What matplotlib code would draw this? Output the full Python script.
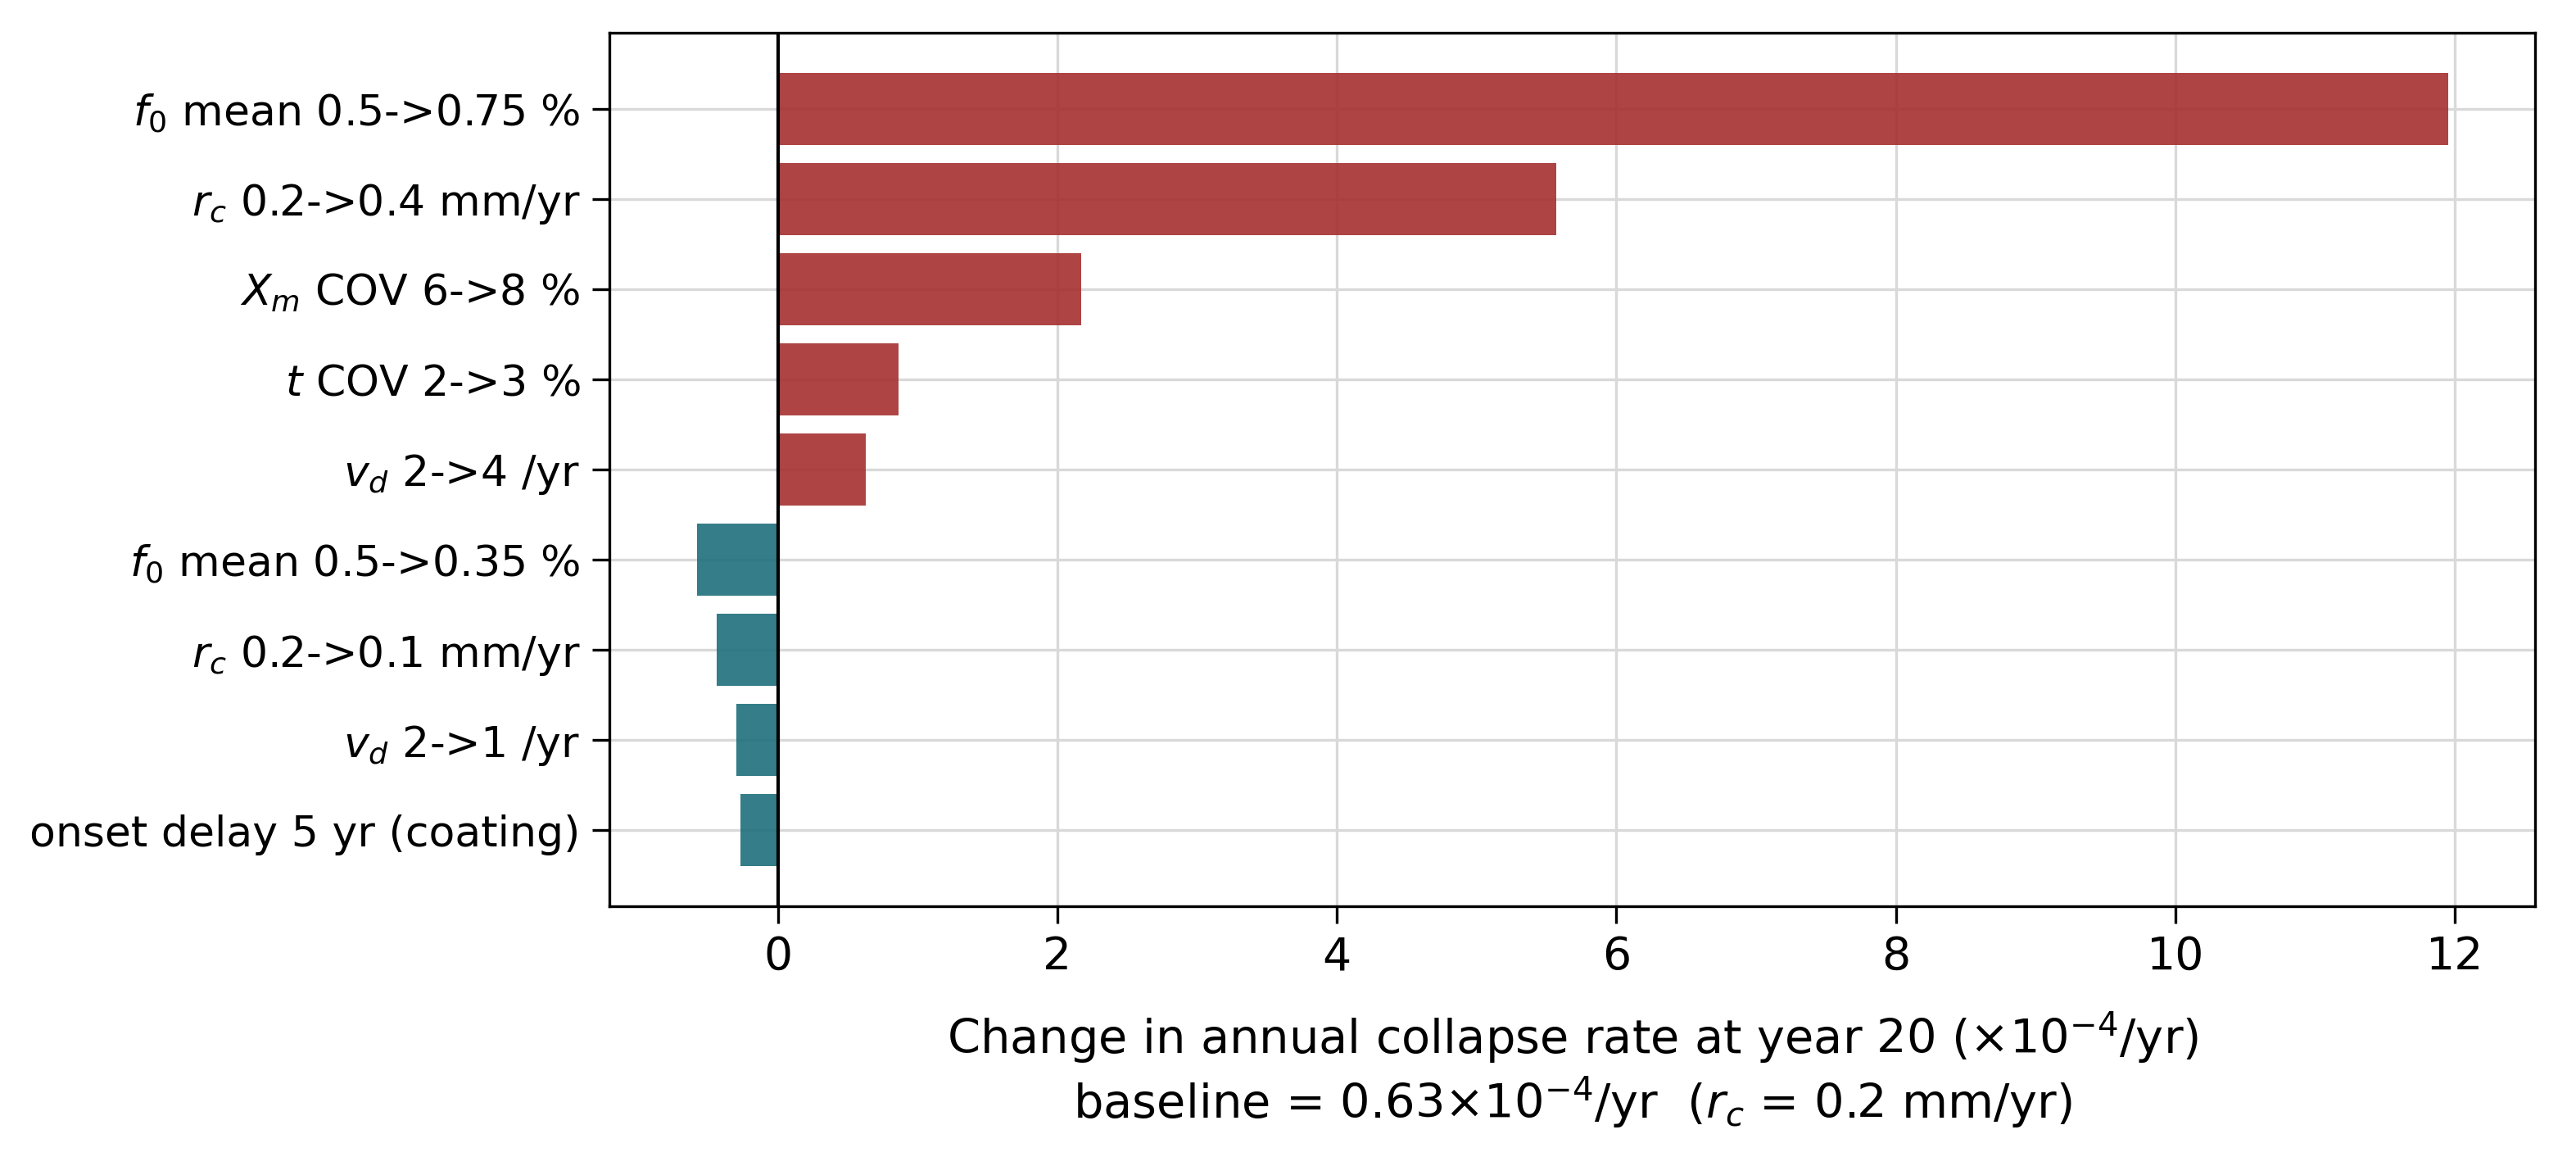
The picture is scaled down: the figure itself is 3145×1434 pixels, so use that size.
import numpy as np
import matplotlib.pyplot as plt

## sensitivity cases (top to bottom) and change in collapse rate (x1e-4/yr)
labels = [
    "$f_0$ mean 0.5->0.75 %",
    "$r_c$ 0.2->0.4 mm/yr",
    "$X_m$ COV 6->8 %",
    "$t$ COV 2->3 %",
    "$v_d$ 2->4 /yr",
    "$f_0$ mean 0.5->0.35 %",
    "$r_c$ 0.2->0.1 mm/yr",
    "$v_d$ 2->1 /yr",
    "onset delay 5 yr (coating)",
]
delta = [11.95, 5.57, 2.17, 0.86, 0.63, -0.58, -0.44, -0.30, -0.27]

red = "#a52f2f"
teal = "#1f6f7b"
colors = [red if d > 0 else teal for d in delta]

fig, ax = plt.subplots(figsize=(10.486, 4.78), dpi=300)
ypos = np.arange(len(labels))
ax.barh(ypos, delta, height=0.8, color=colors, alpha=0.9, zorder=2)
ax.axvline(0, color="black", lw=1.0, zorder=3)
ax.set_yticks(ypos)
ax.set_yticklabels(labels, fontsize=12.5)
ax.invert_yaxis()
ax.tick_params(axis="x", labelsize=13.3)
ax.tick_params(axis="both", length=5)
ax.grid(True, color="#d9d9d9", lw=0.8, zorder=0)
ax.set_axisbelow(True)
ax.set_xlabel("Change in annual collapse rate at year 20 ($\\times10^{-4}$/yr)\n"
              "baseline = 0.63$\\times10^{-4}$/yr  ($r_c$ = 0.2 mm/yr)",
              fontsize=13.8, labelpad=9)

plt.subplots_adjust(left=0.2365, right=0.984, top=0.972, bottom=0.229)
fig.savefig("out.png", dpi=300)
